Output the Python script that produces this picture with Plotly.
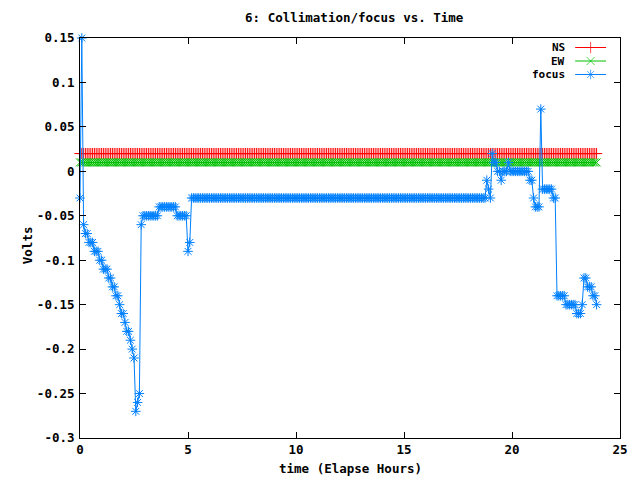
import plotly.graph_objects as go

# ---- data ----
# samples every 5 minutes over ~24 h
time_h = [i / 12 for i in range(288)]

ns_volts = [0.02 for _ in time_h]
ew_volts = [0.01 for _ in time_h]

focus_volts = [
    # 0-2 h
    -0.03, 0.15, -0.06, -0.07, -0.07, -0.08, -0.08, -0.08, -0.09, -0.09, -0.09, -0.10,
    -0.10, -0.11, -0.11, -0.11, -0.12, -0.12, -0.13, -0.13, -0.14, -0.14, -0.15, -0.16,
    # 2-4 h
    -0.16, -0.17, -0.18, -0.18, -0.19, -0.20, -0.21, -0.27, -0.26, -0.25, -0.06, -0.05,
    -0.05, -0.05, -0.05, -0.05, -0.05, -0.05, -0.05, -0.05, -0.04, -0.04, -0.04, -0.04,
    # 4-6 h
    -0.04, -0.04, -0.04, -0.04, -0.04, -0.04, -0.05, -0.05, -0.05, -0.05, -0.05, -0.05,
    -0.09, -0.08, -0.03, -0.03, -0.03, -0.03, -0.03, -0.03, -0.03, -0.03, -0.03, -0.03,
    # 6-8 h
    -0.03, -0.03, -0.03, -0.03, -0.03, -0.03, -0.03, -0.03, -0.03, -0.03, -0.03, -0.03,
    -0.03, -0.03, -0.03, -0.03, -0.03, -0.03, -0.03, -0.03, -0.03, -0.03, -0.03, -0.03,
    # 8-10 h
    -0.03, -0.03, -0.03, -0.03, -0.03, -0.03, -0.03, -0.03, -0.03, -0.03, -0.03, -0.03,
    -0.03, -0.03, -0.03, -0.03, -0.03, -0.03, -0.03, -0.03, -0.03, -0.03, -0.03, -0.03,
    # 10-12 h
    -0.03, -0.03, -0.03, -0.03, -0.03, -0.03, -0.03, -0.03, -0.03, -0.03, -0.03, -0.03,
    -0.03, -0.03, -0.03, -0.03, -0.03, -0.03, -0.03, -0.03, -0.03, -0.03, -0.03, -0.03,
    # 12-14 h
    -0.03, -0.03, -0.03, -0.03, -0.03, -0.03, -0.03, -0.03, -0.03, -0.03, -0.03, -0.03,
    -0.03, -0.03, -0.03, -0.03, -0.03, -0.03, -0.03, -0.03, -0.03, -0.03, -0.03, -0.03,
    # 14-16 h
    -0.03, -0.03, -0.03, -0.03, -0.03, -0.03, -0.03, -0.03, -0.03, -0.03, -0.03, -0.03,
    -0.03, -0.03, -0.03, -0.03, -0.03, -0.03, -0.03, -0.03, -0.03, -0.03, -0.03, -0.03,
    # 16-18 h
    -0.03, -0.03, -0.03, -0.03, -0.03, -0.03, -0.03, -0.03, -0.03, -0.03, -0.03, -0.03,
    -0.03, -0.03, -0.03, -0.03, -0.03, -0.03, -0.03, -0.03, -0.03, -0.03, -0.03, -0.03,
    # 18-20 h
    -0.03, -0.03, -0.03, -0.03, -0.03, -0.03, -0.03, -0.03, -0.03, -0.03, -0.01, -0.02,
    -0.03, 0.02, 0.01, 0.01, 0.00, 0.00, -0.01, 0.00, 0.00, 0.00, 0.01, 0.00,
    # 20-22 h
    0.00, 0.00, 0.00, 0.00, 0.00, 0.00, 0.00, 0.00, 0.00, 0.00, -0.01, -0.01,
    -0.03, -0.04, -0.04, -0.04, 0.07, -0.02, -0.02, -0.02, -0.02, -0.02, -0.02, -0.03,
    # 22-24 h
    -0.03, -0.14, -0.14, -0.14, -0.14, -0.14, -0.15, -0.15, -0.15, -0.15, -0.15, -0.15,
    -0.16, -0.16, -0.16, -0.15, -0.12, -0.12, -0.13, -0.13, -0.13, -0.14, -0.14, -0.15,
]

series_names = ["NS", "EW", "focus"]
series_values = [ns_volts, ew_volts, focus_volts]
series_colors = ["#ff0000", "#00c000", "#0080ff"]
series_symbols = ["cross-thin-open", "x-thin-open", "asterisk-open"]

x_tick_vals = [0, 5, 10, 15, 20, 25]
x_tick_text = ["0", "5", "10", "15", "20", "25"]
y_tick_vals = [0.15, 0.1, 0.05, 0, -0.05, -0.1, -0.15, -0.2, -0.25, -0.3]
y_tick_text = ["0.15", "0.1", "0.05", "0", "-0.05", "-0.1", "-0.15", "-0.2", "-0.25", "-0.3"]

title_text = "6: Collimation/focus vs. Time"
x_title = "time (Elapse Hours)"
y_title = "Volts"

# ---- figure ----
FONT = dict(family="DejaVu Sans Mono", size=12.5, color="black", weight="bold")
KEY_FONT = dict(family="DejaVu Sans Mono", size=11, color="black", weight="bold")

fig = go.Figure()
for name, vals, col, sym in zip(series_names, series_values, series_colors, series_symbols):
    fig.add_trace(go.Scatter(
        x=time_h, y=vals, name=name, mode="lines+markers",
        line=dict(color=col, width=1),
        marker=dict(symbol=sym, size=8, color=col, line=dict(color=col, width=1)),
        cliponaxis=False, showlegend=False,
    ))

# key (gnuplot style: label on the left, sample on the right), in pixel-like overlay axes
key_rows = [47.5, 61, 74.5]
for name, col, sym, ky in zip(series_names, series_colors, series_symbols, key_rows):
    fig.add_trace(go.Scatter(
        x=[577, 592.5, 608], y=[ky, ky, ky], xaxis="x2", yaxis="y2",
        mode="lines+markers", line=dict(color=col, width=1),
        marker=dict(symbol=sym, size=[0, 8, 0], color=col, line=dict(color=col, width=1)),
        showlegend=False, hoverinfo="skip", cliponaxis=False,
    ))
    fig.add_annotation(x=568, y=ky, xref="x2", yref="y2", text=name, showarrow=False,
                       xanchor="right", yanchor="middle", borderpad=0, font=KEY_FONT)

axis_common = dict(showline=True, linecolor="black", linewidth=1, mirror="allticks",
                   ticks="inside", ticklen=6, tickwidth=1, tickcolor="black",
                   showgrid=False, zeroline=False, tickfont=FONT)

fig.update_layout(
    width=640, height=480,
    margin=dict(l=80, r=18, t=38, b=42),
    paper_bgcolor="white", plot_bgcolor="white",
    font=FONT,
    title=dict(text=title_text, x=0.5 + (356 - 351) / 640, y=1 - 18 / 480, xref="paper",
               yref="container", xanchor="center", yanchor="middle", font=FONT),
    xaxis=dict(range=[0, 25], tickvals=x_tick_vals, ticktext=x_tick_text, **axis_common),
    yaxis=dict(range=[-0.3, 0.15], tickvals=y_tick_vals, ticktext=y_tick_text,
               ticklabelstandoff=2, **axis_common),
    xaxis2=dict(overlaying="x", range=[80, 622], visible=False, fixedrange=True),
    yaxis2=dict(overlaying="y", range=[438, 38], visible=False, fixedrange=True),
    showlegend=False,
)

fig.add_annotation(x=0.5, y=(438 - 469) / 400, xref="paper", yref="paper", text=x_title,
                   showarrow=False, xanchor="center", yanchor="middle", font=FONT)
fig.add_annotation(x=(27 - 80) / 542, y=(438 - 245) / 400, xref="paper", yref="paper",
                   text=y_title, textangle=-90, showarrow=False,
                   xanchor="center", yanchor="middle", font=FONT)

fig.write_html("out.html")
